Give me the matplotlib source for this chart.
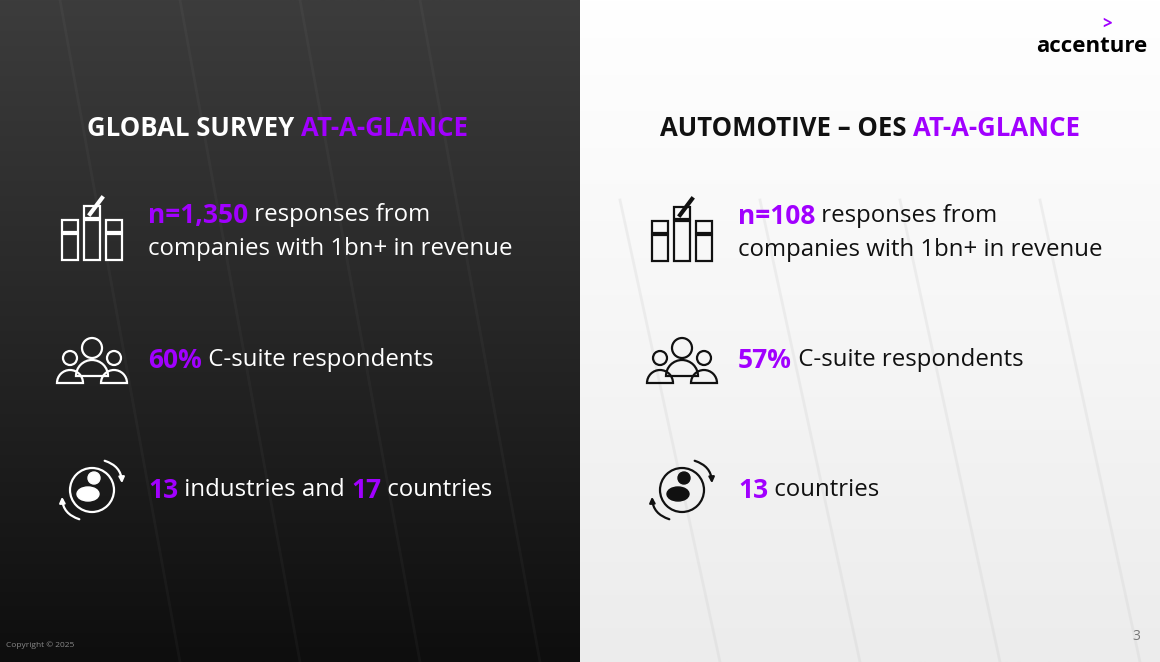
import numpy as np
import matplotlib.pyplot as plt
from matplotlib.colors import LinearSegmentedColormap
from matplotlib.patches import Rectangle, Circle, Ellipse, FancyArrowPatch, Wedge

PURPLE = '#a100ff'
FONT = ['Open Sans', 'DejaVu Sans']

titles = [[('GLOBAL SURVEY ', 'white'), ('AT-A-GLANCE', PURPLE)],
          [('AUTOMOTIVE – OES ', '#111111'), ('AT-A-GLANCE', PURPLE)]]
left_stats = [
    [[('n=1,350', 'num'), (' responses from', 'txt')], [('companies with 1bn+ in revenue', 'txt')]],
    [[('60%', 'num'), (' C-suite respondents', 'txt')]],
    [[('13', 'num'), (' industries and ', 'txt'), ('17', 'num'), (' countries', 'txt')]],
]
right_stats = [
    [[('n=108', 'num'), (' responses from', 'txt')], [('companies with 1bn+ in revenue', 'txt')]],
    [[('57%', 'num'), (' C-suite respondents', 'txt')]],
    [[('13', 'num'), (' countries', 'txt')]],
]
row_y = [232, 360, 490]
icon_kind = ['hands', 'people', 'globe']

fig = plt.figure(figsize=(11.6, 6.62), dpi=100)
ax = fig.add_axes([0, 0, 1, 1])

# backgrounds
grad = np.linspace(0, 1, 256).reshape(-1, 1)
ax.imshow(grad, extent=[0, 580, 662, 0], cmap=LinearSegmentedColormap.from_list(
    'd', ['#3c3c3c', '#262626', '#0e0e0e']), aspect='auto', zorder=0)
ax.imshow(grad, extent=[580, 1160, 662, 0], cmap=LinearSegmentedColormap.from_list(
    'l', ['#ffffff', '#f6f6f6', '#ececec']), aspect='auto', zorder=0)
for x0 in [60, 180, 300, 420]:
    ax.plot([x0, x0 + 120], [0, 662], color='white', alpha=0.03, lw=2, zorder=1)
for x0 in [720, 860, 1000, 1140]:
    ax.plot([x0, x0 - 100], [662, 200], color='#cccccc', alpha=0.25, lw=2, zorder=1)
ax.set_xlim(0, 1160)
ax.set_ylim(662, 0)
ax.axis('off')

fig.canvas.draw()
renderer = fig.canvas.get_renderer()


def seg_text(x, y, segs, size, weight_map, color_map):
    for s, kind in segs:
        color = color_map.get(kind, kind)
        weight = weight_map.get(kind, 'bold')
        t = ax.text(x, y, s, fontsize=size if kind != 'num' else size * 1.1, color=color,
                    fontweight=weight, family=FONT, va='center', ha='left', zorder=5)
        bb = t.get_window_extent(renderer)
        x += bb.width * 1160 / fig.bbox.width


def icon(kind, cx, cy, c):
    lw = 1.6
    if kind == 'hands':
        for dx, h in [(-22, 26), (0, 40), (22, 26)]:
            ax.add_patch(Rectangle((cx + dx - 8, cy + 28 - h), 16, h, fill=False, ec=c, lw=lw, zorder=5))
            ax.add_patch(Rectangle((cx + dx - 8, cy + 28 - h - 14), 16, 12, fill=False, ec=c, lw=lw, zorder=5))
        ax.plot([cx - 2, cx + 10], [cy - 18, cy - 34], color=c, lw=3, zorder=5)
    elif kind == 'people':
        for dx, r, dy in [(-22, 7, 4), (22, 7, 4), (0, 10, -6)]:
            ax.add_patch(Circle((cx + dx, cy + dy - 6), r, fill=False, ec=c, lw=lw, zorder=5))
            ax.add_patch(Wedge((cx + dx, cy + dy + r + 12), r + 6, 180, 360, fill=False, ec=c, lw=lw, zorder=5))
    else:
        ax.add_patch(Circle((cx, cy), 22, fill=False, ec=c, lw=lw, zorder=5))
        ax.add_patch(Ellipse((cx - 4, cy + 4), 22, 14, color=c, zorder=5))
        ax.add_patch(Circle((cx + 2, cy - 12), 6, color=c, zorder=5))
        ax.add_patch(FancyArrowPatch((cx + 10, cy - 30), (cx + 30, cy - 4),
                     connectionstyle='arc3,rad=-0.4', arrowstyle='-|>', mutation_scale=8, color=c, lw=lw, zorder=5))
        ax.add_patch(FancyArrowPatch((cx - 10, cy + 30), (cx - 30, cy + 4),
                     connectionstyle='arc3,rad=-0.4', arrowstyle='-|>', mutation_scale=8, color=c, lw=lw, zorder=5))


panels = [(148, left_stats, 'white', 87, 60), (738, right_stats, '#111111', 660, 650)]
for i, (txt_x, stats, col, tx, ix) in enumerate(panels):
    seg_text(tx, 128, titles[i], 18.5, {}, {})
    for j, lines in enumerate(stats):
        y = row_y[j] + (i == 1 and j == 0) * 1
        icon(icon_kind[j], ix + 32, y, col)
        n = len(lines)
        for k, segs in enumerate(lines):
            ly = y + (k - (n - 1) / 2) * 34
            seg_text(txt_x, ly, segs, 17.3, {'txt': 'normal', 'num': 'bold'},
                     {'txt': col, 'num': PURPLE})

ax.text(1036, 46, 'accenture', fontsize=16, fontweight='bold', color='black', family=FONT, va='center', zorder=5)
ax.text(1102, 24, '>', fontsize=12, fontweight='bold', color=PURPLE, family=FONT, va='center', zorder=5)
ax.text(6, 645, 'Copyright © 2025', fontsize=6, color='#888888', family=FONT, va='center', zorder=5)
ax.text(1140, 637, '3', fontsize=10, color='#777777', family=FONT, va='center', ha='right', zorder=5)

fig.savefig('out.png', dpi=100)
